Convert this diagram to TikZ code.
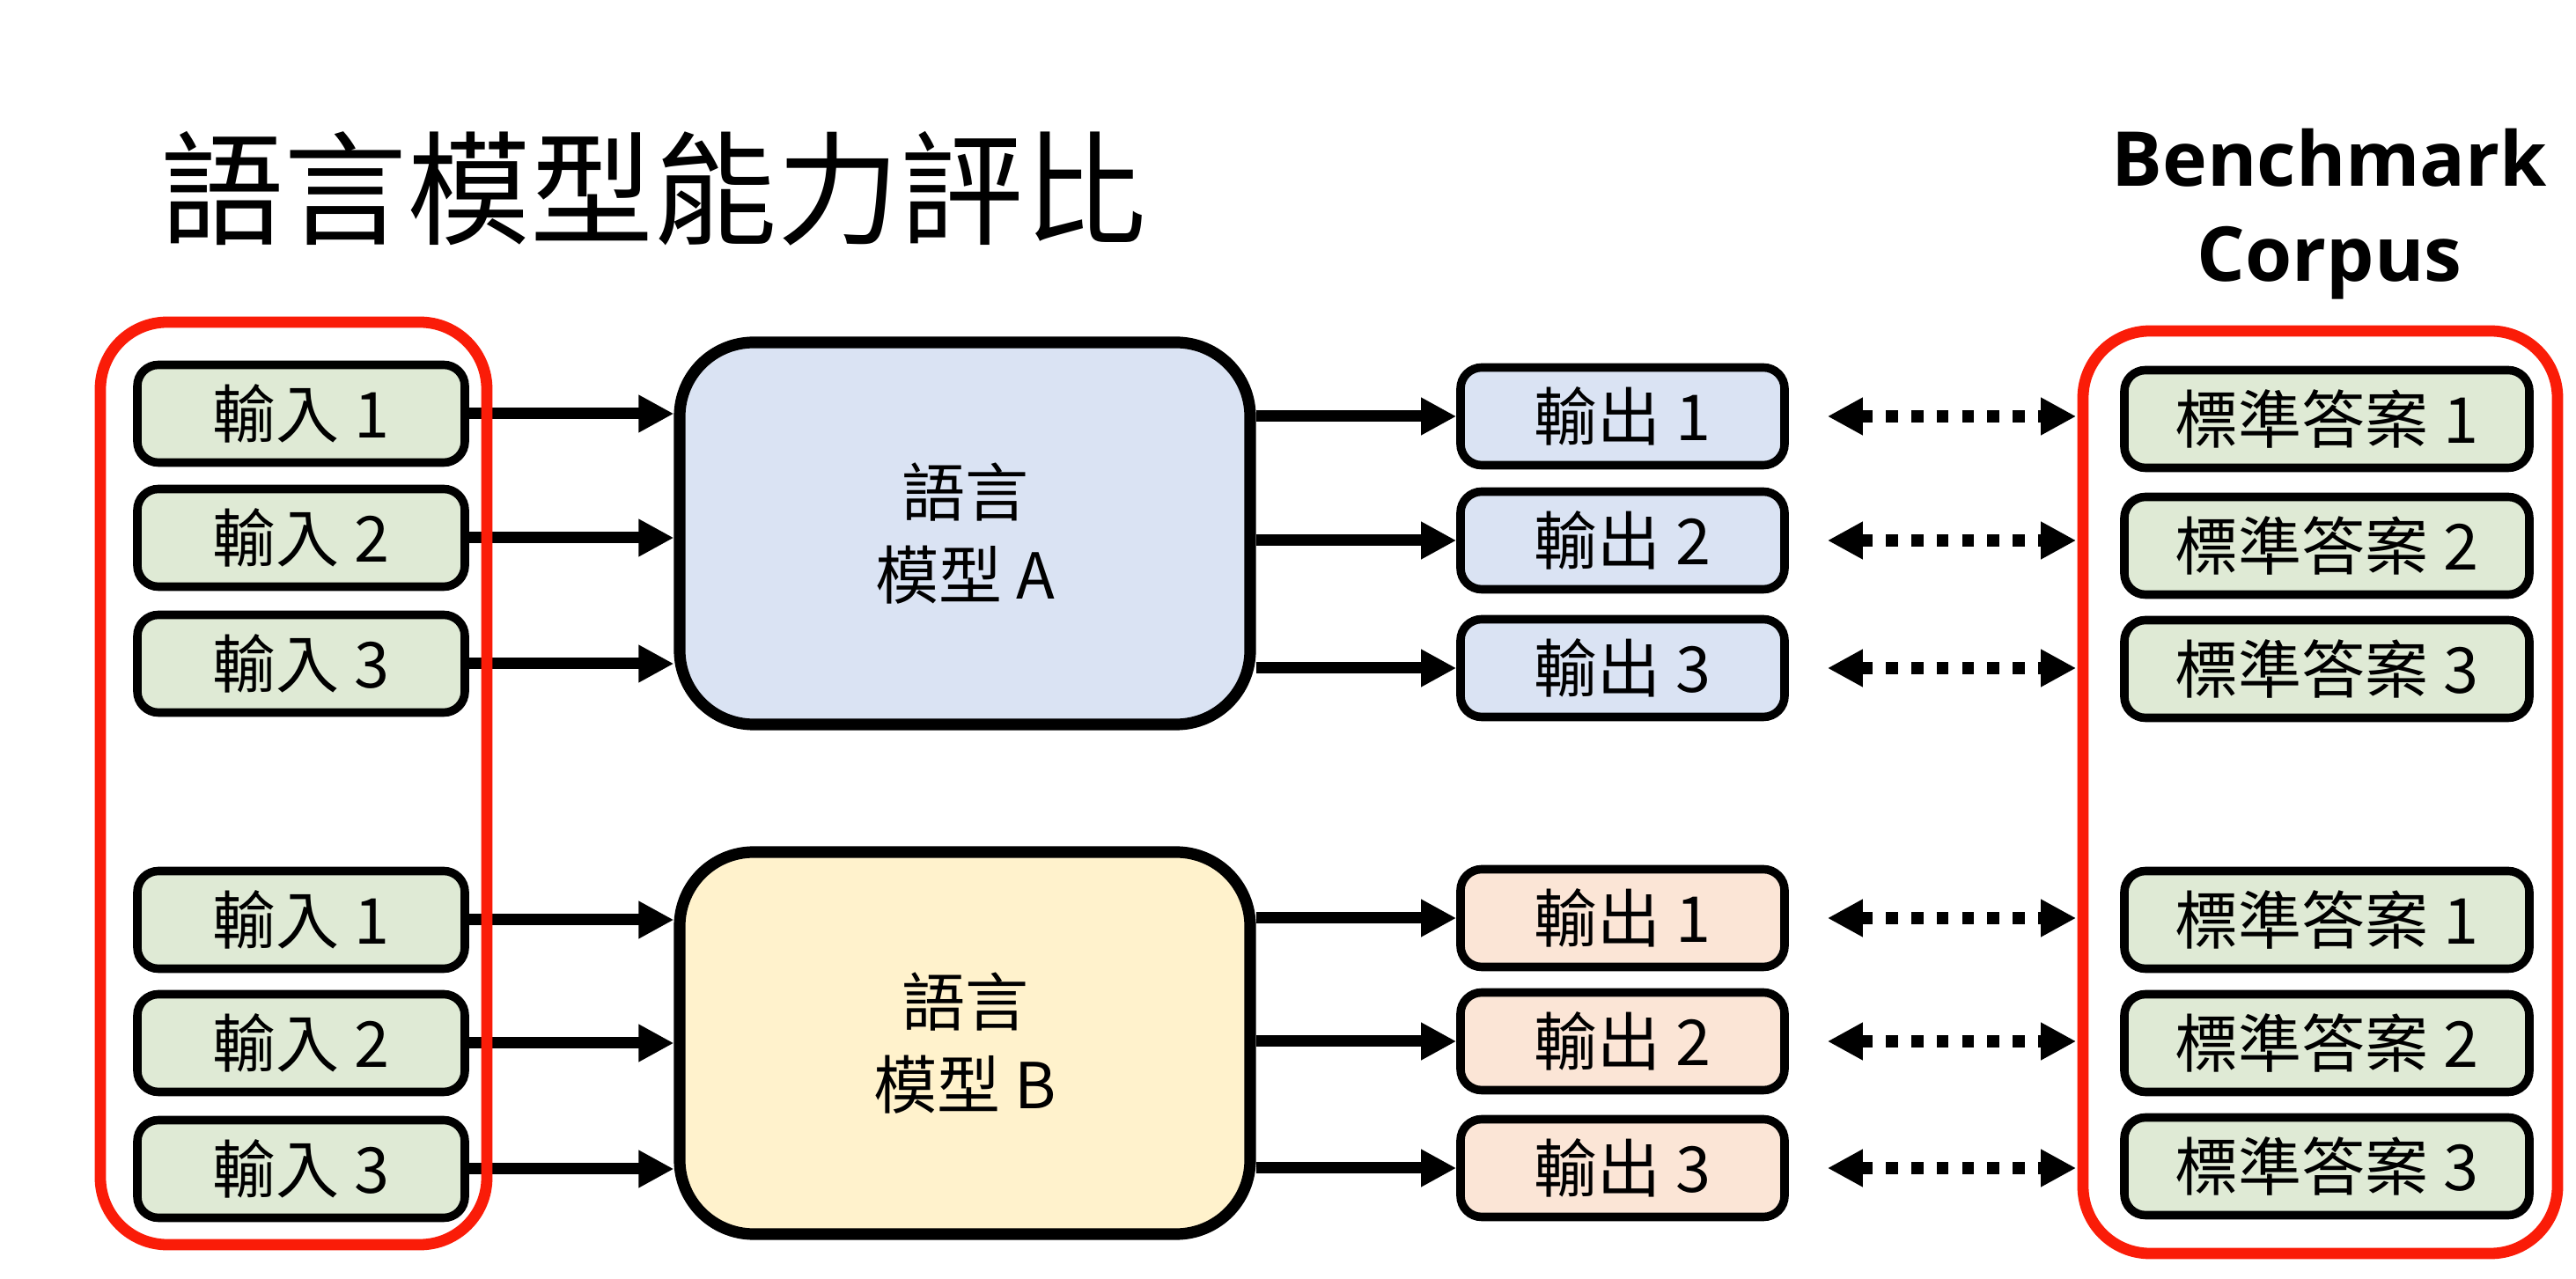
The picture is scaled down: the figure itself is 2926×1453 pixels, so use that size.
\documentclass[tikz,border=0pt]{standalone}
\usepackage{fontspec}
\setmainfont{Noto Sans CJK TC}
\newfontfamily\benchfont{Open Sans}
\usetikzlibrary{arrows.meta}
\definecolor{ingreen}{RGB}{223,234,213}
\definecolor{outblue}{RGB}{218,227,243}
\definecolor{modblue}{RGB}{218,227,243}
\definecolor{modyellow}{RGB}{255,242,204}
\definecolor{outpeach}{RGB}{251,229,214}
\definecolor{redc}{RGB}{250,28,8}
\begin{document}
\begin{tikzpicture}[x=0.25pt,y=-0.25pt,
  smallbox/.style={draw=black, line width=2.4pt, rounded corners=6pt, minimum height=27.75pt, inner sep=0pt, font=\fontsize{18}{22}\selectfont},
  inbox/.style={smallbox, fill=ingreen, minimum width=93pt},
  outA/.style={smallbox, fill=outblue, minimum width=92pt},
  outB/.style={smallbox, fill=outpeach, minimum width=92pt},
  ansbox/.style={smallbox, fill=ingreen, minimum width=115pt},
  model/.style={draw=black, line width=3.3pt, rounded corners=21pt, minimum width=162pt, minimum height=108.5pt, align=center, inner sep=0pt, font=\fontsize{18}{23.5}\selectfont},
  redframe/.style={draw=redc, line width=3.2pt, rounded corners=19pt},
  flow/.style={line width=3.25pt, -{Triangle[length=10pt,width=10pt]}},
  cmp/.style={line width=3.5pt, dash pattern=on 3.4pt off 3.8pt, {Triangle[length=10pt,width=10pt]}-{Triangle[length=10pt,width=10pt]}}
]
\useasboundingbox (0,0) rectangle (2926,1453);
\fill[white] (0,0) rectangle (2926,1453);

% title
\node[anchor=west, inner sep=0pt, font=\fontsize{35}{40}\selectfont] (title) at (182,214) {語言模型能力評比};
\node[anchor=base, inner sep=0pt, font=\benchfont\bfseries\fontsize{21.5}{27}\selectfont] (bench1) at (2646,212) {Benchmark};
\node[anchor=base, inner sep=0pt, font=\benchfont\bfseries\fontsize{21.5}{27}\selectfont] (bench2) at (2646,320) {Corpus};

% models
\node[model, fill=modblue] (mA) at (1096,606) {語言\\模型 A};
\node[model, fill=modyellow] (mB) at (1096,1185) {語言\\模型 B};

% inputs
\node[inbox] (iA1) at (342,470) {輸入 1};
\node[inbox] (iA2) at (342,611) {輸入 2};
\node[inbox] (iA3) at (342,754) {輸入 3};
\node[inbox] (iB1) at (342,1045) {輸入 1};
\node[inbox] (iB2) at (342,1185) {輸入 2};
\node[inbox] (iB3) at (342,1328) {輸入 3};

% outputs
\node[outA] (oA1) at (1843,473) {輸出 1};
\node[outA] (oA2) at (1843,614) {輸出 2};
\node[outA] (oA3) at (1843,759) {輸出 3};
\node[outB] (oB1) at (1843,1043) {輸出 1};
\node[outB] (oB2) at (1843,1183) {輸出 2};
\node[outB] (oB3) at (1843,1327) {輸出 3};

% answers
\node[ansbox] (aA1) at (2643,476) {標準答案 1};
\node[ansbox] (aA2) at (2643,620) {標準答案 2};
\node[ansbox] (aA3) at (2643,760) {標準答案 3};
\node[ansbox] (aB1) at (2643,1045) {標準答案 1};
\node[ansbox] (aB2) at (2643,1185) {標準答案 2};
\node[ansbox] (aB3) at (2643,1325) {標準答案 3};

% arrows
\foreach \i in {1,2,3}{
  \draw[flow] (iA\i.east) -- (iA\i.east -| mA.west);
  \draw[flow] (iB\i.east) -- (iB\i.east -| mB.west);
  \draw[flow] (oA\i.west -| mA.east) -- (oA\i.west);
  \draw[flow] (oB\i.west -| mB.east) -- (oB\i.west);
  \draw[cmp] ([xshift=11pt]oA\i.east) -- ([xshift=-12.5pt]oA\i.east -| aA\i.west);
  \draw[cmp] ([xshift=11pt]oB\i.east) -- ([xshift=-12.5pt]oB\i.east -| aB\i.west);
}

% red frames
\draw[redframe] (114,366) rectangle (553,1414);
\draw[redframe] (2366,376) rectangle (2905,1424);
\end{tikzpicture}
\end{document}
